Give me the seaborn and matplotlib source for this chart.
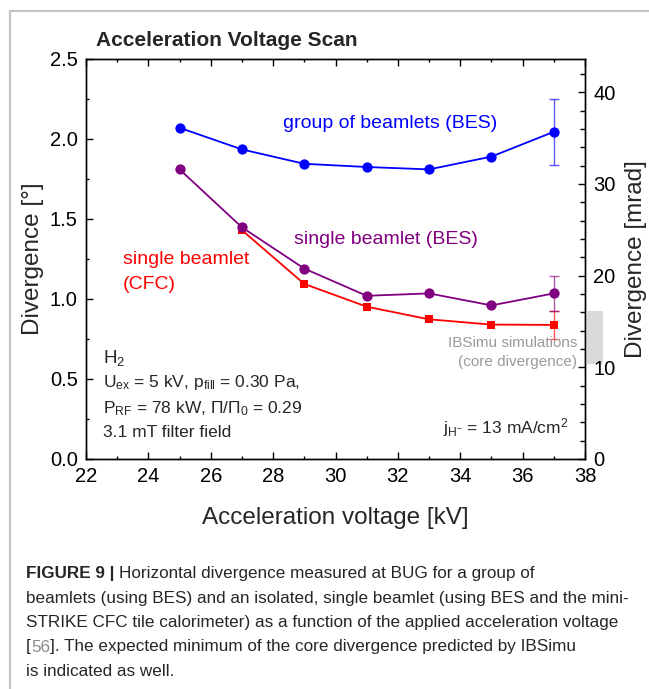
import numpy as np
import pandas as pd
import matplotlib
matplotlib.use("Agg")
import matplotlib.pyplot as plt
import seaborn as sns
from matplotlib.ticker import MultipleLocator, FormatStrFormatter
from matplotlib.lines import Line2D
from matplotlib.patches import Rectangle
from matplotlib.transforms import blended_transform_factory

# ---- data -----------------------------------------------------------------
# acceleration voltage [kV]
voltage_kv = [25, 27, 29, 31, 33, 35, 37]
voltage_cfc_kv = [27, 29, 31, 33, 35, 37]

# horizontal divergence [deg]
group_bes = [2.07, 1.935, 1.845, 1.825, 1.81, 1.89, 2.045]
single_bes = [1.81, 1.448, 1.19, 1.02, 1.035, 0.96, 1.035]
single_cfc = [1.43, 1.094, 0.952, 0.873, 0.84, 0.838]

# uncertainty, given for the last scan point only
err_kv = [37]
group_bes_err = [0.205]
single_bes_err = [0.11]
single_cfc_err = [0.085]

# IBSimu prediction of the core divergence [mrad]
ibsimu_low_mrad = 10.4
ibsimu_high_mrad = 16.1

MRAD_PER_DEG = 1000.0 * np.pi / 180.0

# ---- style ----------------------------------------------------------------
sns.set_style("ticks")
plt.rcParams["font.family"] = ["Liberation Sans", "DejaVu Sans"]
plt.rcParams["mathtext.fontset"] = "custom"
plt.rcParams["mathtext.rm"] = "Liberation Sans"
plt.rcParams["mathtext.it"] = "Liberation Sans:italic"
plt.rcParams["mathtext.bf"] = "Liberation Sans:bold"
plt.rcParams["axes.linewidth"] = 1.0
plt.rcParams["axes.edgecolor"] = "black"

BLUE = "#0000ff"
PURPLE = "#800080"
RED = "#ff0000"

W, H = 649, 689


def fx(x):
    return x / W


def fy(y):
    return 1.0 - y / H


fig = plt.figure(figsize=(W / 100, H / 100), dpi=100, facecolor="white")
ax = fig.add_axes([fx(86), fy(459), (585 - 86) / W, (459 - 59) / H])

# ---- series ---------------------------------------------------------------
df_group = pd.DataFrame({"kv": voltage_kv, "div": group_bes})
df_single = pd.DataFrame({"kv": voltage_kv, "div": single_bes})
df_cfc = pd.DataFrame({"kv": voltage_cfc_kv, "div": single_cfc})

line_kw = dict(linewidth=1.3, markeredgewidth=0, legend=False, ax=ax)
sns.lineplot(data=df_cfc, x="kv", y="div", color=RED, marker="s",
             markersize=6.4, zorder=3, **line_kw)
sns.lineplot(data=df_single, x="kv", y="div", color=PURPLE, marker="o",
             markersize=7.4, zorder=4, **line_kw)
sns.lineplot(data=df_group, x="kv", y="div", color=BLUE, marker="o",
             markersize=7.4, zorder=4, **line_kw)

err_kw = dict(fmt="none", elinewidth=1.0, capsize=3.3, capthick=1.0, alpha=0.65)
ax.errorbar(err_kv, single_cfc[-1:], yerr=single_cfc_err, ecolor=RED,
            zorder=2, **err_kw)
ax.errorbar(err_kv, single_bes[-1:], yerr=single_bes_err, ecolor=PURPLE,
            zorder=2, **err_kw)
ax.errorbar(err_kv, group_bes[-1:], yerr=group_bes_err, ecolor=BLUE,
            zorder=2, **err_kw)

# ---- axes -----------------------------------------------------------------
ax.set_xlim(22, 38)
ax.set_ylim(0, 2.5)
ax.xaxis.set_major_locator(MultipleLocator(2))
ax.xaxis.set_minor_locator(MultipleLocator(1))
ax.yaxis.set_major_locator(MultipleLocator(0.5))
ax.yaxis.set_minor_locator(MultipleLocator(0.25))
ax.yaxis.set_major_formatter(FormatStrFormatter("%.1f"))
ax.tick_params(which="both", direction="in", top=True, right=False,
               width=1.0, labelsize=14.5, pad=6, colors="black")
ax.tick_params(which="major", length=4.8)
ax.tick_params(which="minor", length=2.5)

ax.set_xlabel("Acceleration voltage [kV]", fontsize=17.5)
ax.xaxis.set_label_coords(0.5, -(524 - 459) / 400)
ax.xaxis.label.set_va("baseline")
ax.set_ylabel("Divergence [°]", fontsize=17.5)
ax.yaxis.set_label_coords((33 - 86) / 499, 0.5)
ax.yaxis.label.set_va("center")

ax2 = ax.twinx()
ax2.set_ylim(0, 2.5 * MRAD_PER_DEG)
ax2.yaxis.set_major_locator(MultipleLocator(10))
ax2.yaxis.set_minor_locator(MultipleLocator(2))
ax2.tick_params(which="both", direction="in", width=1.0, labelsize=14.5,
                pad=6, colors="black")
ax2.tick_params(which="major", length=4.8)
ax2.tick_params(which="minor", length=3.6)
ax2.set_ylabel("Divergence [mrad]", fontsize=17.5)
ax2.yaxis.set_label_coords((636 - 86) / 499, 0.5)
ax2.yaxis.label.set_va("center")
ax2.grid(False)
ax.grid(False)

# IBSimu band just outside the right spine
band_tr = blended_transform_factory(ax2.transAxes, ax2.transData)
ax2.add_patch(Rectangle((1.0, ibsimu_low_mrad), 0.036,
                        ibsimu_high_mrad - ibsimu_low_mrad,
                        transform=band_tr, clip_on=False,
                        facecolor="#d9d9d9", edgecolor="none", zorder=0))

# ---- annotations ----------------------------------------------------------
fig.text(fx(96), fy(46), "Acceleration Voltage Scan", fontsize=15,
         fontweight="bold", va="baseline", ha="left")

fig.text(fx(497), fy(124), "group of beamlets (BES)", color=BLUE,
         fontsize=14, ha="right", va="center")
fig.text(fx(294), fy(239), "single beamlet (BES)", color=PURPLE,
         fontsize=14, ha="left", va="center")
fig.text(fx(123), fy(260), "single beamlet", color=RED,
         fontsize=14, ha="left", va="center")
fig.text(fx(123), fy(285), "(CFC)", color=RED,
         fontsize=14, ha="left", va="center")

fig.text(fx(103), fy(358), r"$\mathrm{H}_2$", fontsize=13.5,
         ha="left", va="center")
fig.text(fx(103), fy(383),
         r"$\mathrm{U}_{\mathrm{ex}}$ = 5 kV, $\mathrm{p}_{\mathrm{fill}}$ = 0.30 Pa,",
         fontsize=12.5, ha="left", va="center")
fig.text(fx(103), fy(409),
         r"$\mathrm{P}_{\mathrm{RF}}$ = 78 kW, $\Pi/\Pi_0$ = 0.29",
         fontsize=12.5, ha="left", va="center")
fig.text(fx(103), fy(433), "3.1 mT filter field", fontsize=12.5,
         ha="left", va="center")
fig.text(fx(568), fy(428),
         r"$\mathrm{j}_{\mathrm{H}^{-}}$ = 13 mA/cm$^2$", fontsize=12.5,
         ha="right", va="center")

fig.text(fx(577), fy(343), "IBSimu simulations", fontsize=11,
         color="#9a9a9a", ha="right", va="center")
fig.text(fx(577), fy(362), "(core divergence)", fontsize=11,
         color="#9a9a9a", ha="right", va="center")

# ---- page frame and caption ----------------------------------------------
frame_kw = dict(color="#c4c4c4", linewidth=1.6, transform=fig.transFigure)
fig.add_artist(Line2D([fx(10), fx(10)], [fy(11), 0.0], **frame_kw))
fig.add_artist(Line2D([fx(10), 1.0], [fy(11), fy(11)], **frame_kw))

CAP_SIZE = 12.3
renderer = fig.canvas.get_renderer()
space_px = CAP_SIZE * 100 / 72 * 0.278


def caption_line(y, runs):
    x = 26.0
    for text, kw, gap in runs:
        t = fig.text(fx(x), fy(y), text, fontsize=CAP_SIZE, ha="left",
                     va="baseline", **kw)
        x += t.get_window_extent(renderer).width + (space_px if gap else 0)


caption_line(578, [("FIGURE 9 |", dict(fontweight="bold"), True),
                   ("Horizontal divergence measured at BUG for a group of", {}, False)])
caption_line(602.5, [("beamlets (using BES) and an isolated, single beamlet "
                      "(using BES and the mini-", {}, False)])
caption_line(627, [("STRIKE CFC tile calorimeter) as a function of the "
                    "applied acceleration voltage", {}, False)])
caption_line(651.5, [("[", {}, False), ("56", dict(color="#8c8c8c"), False),
                     ("]. The expected minimum of the core divergence "
                      "predicted by IBSimu", {}, False)])
caption_line(676, [("is indicated as well.", {}, False)])

fig.savefig("out.png", dpi=100, facecolor="white")
